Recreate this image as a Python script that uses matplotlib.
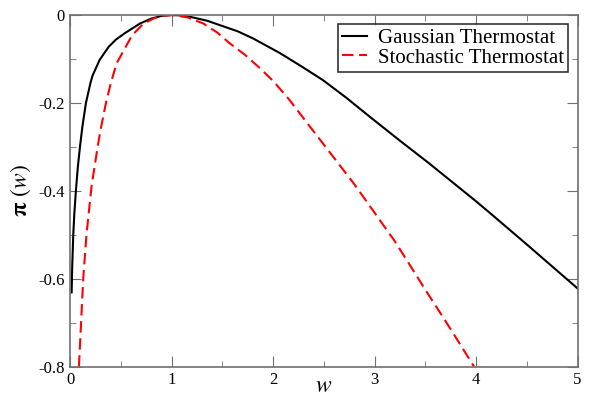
import matplotlib
matplotlib.use("Agg")
import matplotlib.pyplot as plt
from matplotlib.ticker import MultipleLocator

plt.rcParams['font.family'] = ['Liberation Serif', 'DejaVu Serif']
plt.rcParams['mathtext.fontset'] = 'stix'
plt.rcParams['axes.unicode_minus'] = False

# values
w_gauss = [0.014, 0.02, 0.03, 0.04, 0.056, 0.075, 0.096, 0.12, 0.155, 0.2, 0.22,
           0.29, 0.38, 0.45, 0.54, 0.69, 0.8, 0.9, 1.0, 1.1, 1.2, 1.35, 1.475,
           1.65, 1.8, 2.07, 2.28, 2.49, 2.72, 2.95, 3.25, 3.54, 3.76, 3.99, 4.14,
           4.5, 5.0]
pi_gauss = [-0.631, -0.57, -0.50, -0.454, -0.40, -0.346, -0.30, -0.254, -0.20,
            -0.154, -0.138, -0.102, -0.072, -0.056, -0.041, -0.019, -0.008, -0.002,
            0.0, -0.001, -0.005, -0.013, -0.023, -0.037, -0.053, -0.087, -0.117,
            -0.148, -0.188, -0.231, -0.286, -0.338, -0.379, -0.422, -0.451, -0.522,
            -0.622]

w_stoch = [0.086, 0.128, 0.16, 0.21, 0.24, 0.27, 0.3, 0.352, 0.4, 0.457, 0.61,
           0.72, 0.82, 0.9, 1.0, 1.15, 1.31, 1.45, 1.57, 1.72, 1.87, 2.0, 2.15,
           2.3, 2.45, 2.6, 2.8, 3.0, 3.2, 3.5, 3.75, 3.98]
pi_stoch = [-0.80, -0.60, -0.50, -0.39, -0.345, -0.30, -0.26, -0.20, -0.155,
            -0.11, -0.046, -0.02, -0.008, -0.002, 0.0, -0.005, -0.019, -0.04,
            -0.064, -0.09, -0.121, -0.15, -0.19, -0.235, -0.28, -0.325, -0.385,
            -0.45, -0.515, -0.625, -0.715, -0.80]

xticks = [0, 1, 2, 3, 4, 5]
yticks = [-0.8, -0.6, -0.4, -0.2, 0]
ytick_labels = ['-0.8', '-0.6', '-0.4', '-0.2', '0']

fig = plt.figure(figsize=(5.9, 4.01), dpi=100)
ax = fig.add_axes([0.119, 0.0855, 0.86, 0.877])

ax.plot(w_gauss, pi_gauss, color='black', lw=1.5, label='Gaussian Thermostat')
ax.plot(w_stoch, pi_stoch, color='red', lw=1.5, ls=(0, (5.5, 2.7)),
        label='Stochastic Thermostat')

ax.set_xlim(0, 5)
ax.set_ylim(-0.8, 0)
ax.set_xticks(xticks)
ax.set_xticklabels([str(t) for t in xticks])
ax.set_yticks(yticks)
ax.set_yticklabels(ytick_labels)
ax.xaxis.set_minor_locator(MultipleLocator(0.5))
ax.yaxis.set_minor_locator(MultipleLocator(0.1))
ax.tick_params(which='both', direction='in', top=True, right=True,
               color='#707070', labelsize=12, pad=4)
ax.tick_params(which='major', length=8)
ax.tick_params(which='minor', length=4)
for s in ax.spines.values():
    s.set_color('#707070')
    s.set_linewidth(1.2)

ax.set_xlabel(r'$w$', fontsize=17, labelpad=-9)
ax.set_ylabel(r'$\mathbf{\pi}\ (w)$', fontsize=17, labelpad=4)

leg = ax.legend(loc='upper right', fontsize=15, handlelength=1.2, handletextpad=0.5,
                borderpad=0.2, labelspacing=0.0, fancybox=False,
                bbox_to_anchor=(0.981, 0.974), borderaxespad=0)
leg.get_frame().set_edgecolor('black')
leg.get_frame().set_linewidth(1.2)

fig.savefig('out.png', dpi=100)
